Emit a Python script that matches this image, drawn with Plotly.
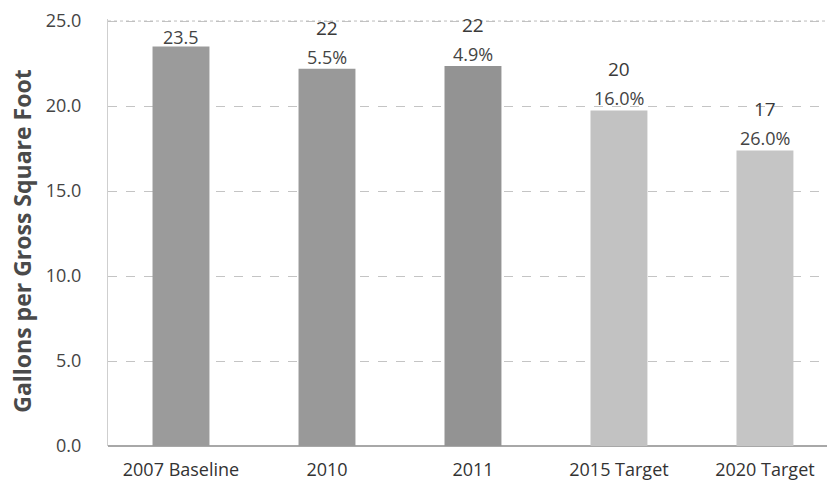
import plotly.graph_objects as go

# Water use intensity, gallons per gross square foot
categories = ["2007 Baseline", "2010", "2011", "2015 Target", "2020 Target"]
gallons_per_gsf = [23.5, 22.2, 22.35, 19.74, 17.39]
bar_colors = ["#9b9b9b", "#999999", "#939393", "#c2c2c2", "#c5c5c5"]
y_ticks = [0, 5, 10, 15, 20, 25]

baseline = gallons_per_gsf[0]
FONT = "'Open Sans', 'Noto Sans', sans-serif"
TEXT_COLOR = "#444444"
Y_MAX = 25.12

fig = go.Figure(
    go.Bar(
        x=categories,
        y=gallons_per_gsf,
        marker=dict(color=bar_colors, line=dict(width=0)),
        width=0.39,
        hoverinfo="x+y",
    )
)

# Value labels: baseline shows its exact value, later years show the rounded
# value with the reduction relative to the baseline underneath.
# Annotations use the category index so "2010"/"2011" are not read as numbers.
for i, val in enumerate(gallons_per_gsf):
    if i == 0:
        fig.add_annotation(x=i, y=val, text=f"{val:.1f}", showarrow=False,
                           yanchor="bottom", yshift=-4,
                           font=dict(size=18, color=TEXT_COLOR, family=FONT))
    else:
        pct = (baseline - val) / baseline * 100
        fig.add_annotation(x=i, y=val, text=f"{pct:.1f}%", showarrow=False,
                           yanchor="bottom", yshift=-2,
                           font=dict(size=18, color=TEXT_COLOR, family=FONT))
        fig.add_annotation(x=i, y=val, text=f"{round(val)}", showarrow=False,
                           yanchor="bottom", yshift=26,
                           font=dict(size=19, color="#3a3a3a", family=FONT))

# Axis title placed to the left of the tick labels
fig.add_annotation(
    text="<b>Gallons per Gross Square Foot</b>",
    xref="paper", yref="paper", x=-0.12, y=0.48,
    xanchor="center", yanchor="middle", textangle=-90, showarrow=False,
    font=dict(size=23, color="#4a4a4a", family=FONT),
)

# Dotted line along the top of the value range
fig.add_shape(type="line", xref="paper", yref="y", x0=0, x1=1, y0=25, y1=25,
              line=dict(color="#bdbdbd", width=1, dash="dot"))

fig.update_layout(
    width=827,
    height=485,
    margin=dict(l=108, r=0, t=19, b=39),
    paper_bgcolor="white",
    plot_bgcolor="white",
    showlegend=False,
    font=dict(family=FONT, color=TEXT_COLOR),
)

fig.update_xaxes(
    type="category",
    range=[-0.5, 4.425],
    automargin=False,
    showgrid=False,
    showline=False,
    ticks="outside",
    ticklen=7,
    tickcolor="rgba(0,0,0,0)",
    tickfont=dict(size=18, color="#333333", family=FONT),
    zeroline=False,
)

fig.update_yaxes(
    range=[0, Y_MAX],
    automargin=False,
    tickvals=y_ticks,
    ticktext=[f"{v:.1f}" for v in y_ticks],
    tickfont=dict(size=18, color=TEXT_COLOR, family=FONT),
    ticks="outside",
    ticklen=22,
    tickcolor="rgba(0,0,0,0)",
    showgrid=True,
    gridcolor="#c4c4c4",
    griddash="dash",
    gridwidth=1,
    showline=True,
    linecolor="#cfcfcf",
    linewidth=1,
    zeroline=True,
    zerolinecolor="#a8a8a8",
    zerolinewidth=1.5,
)

fig.write_html("out.html")
